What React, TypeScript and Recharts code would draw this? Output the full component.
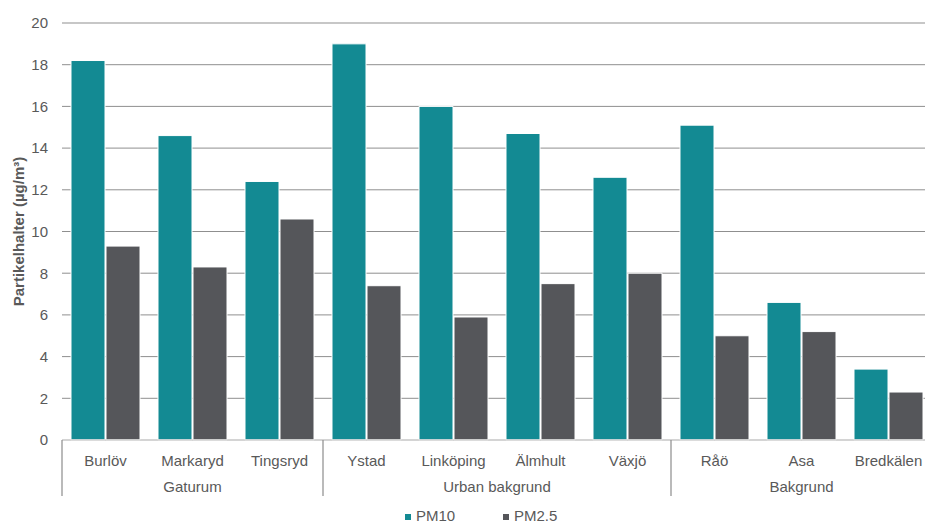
import React from "react";
import { BarChart, Bar, XAxis, YAxis, CartesianGrid, Label } from "recharts";

const categories = [
  "Burlöv",
  "Markaryd",
  "Tingsryd",
  "Ystad",
  "Linköping",
  "Älmhult",
  "Växjö",
  "Råö",
  "Asa",
  "Bredkälen",
];
const groupNames = ["Gaturum", "Urban bakgrund", "Bakgrund"];
const groupSizes = [3, 4, 3];
const pm10 = [18.2, 14.6, 12.4, 19.0, 16.0, 14.7, 12.6, 15.1, 6.6, 3.4];
const pm25 = [9.3, 8.3, 10.6, 7.4, 5.9, 7.5, 8.0, 5.0, 5.2, 2.3];
const yTicks = [0, 2, 4, 6, 8, 10, 12, 14, 16, 18, 20];

const TEAL = "#138A93";
const GREY = "#55565A";
const TEXT = "#595959";
const FONT = '"Liberation Sans", Arial, sans-serif';

// layout
const CHART_W = 932;
const CHART_H = 523;
const Y_W = 62;
const TOP = 23;
const PLOT_BOTTOM = 440;
const BAND = (CHART_W - Y_W) / categories.length;

const chartData = categories.map((name, i) => ({
  name,
  pm10: pm10[i],
  pm25: pm25[i],
}));

// index of first category -> group info
const groupStarts: Record<number, { name: string; size: number }> = {};
let acc = 0;
groupNames.forEach((g, i) => {
  groupStarts[acc] = { name: g, size: groupSizes[i] };
  acc += groupSizes[i];
});

const GroupTick = (props: any) => {
  const { x, index } = props;
  const g = groupStarts[index];
  const isLast = index === categories.length - 1;
  return (
    <g>
      {g && (
        <>
          <line
            x1={x - BAND / 2}
            x2={x - BAND / 2}
            y1={PLOT_BOTTOM}
            y2={PLOT_BOTTOM + 56}
            stroke="#8c8c8c"
            strokeWidth={1.2}
          />
          <text
            x={x - BAND / 2 + (g.size * BAND) / 2}
            y={PLOT_BOTTOM + 52}
            textAnchor="middle"
            fontSize={15}
            fontFamily={FONT}
            fill={TEXT}
          >
            {g.name}
          </text>
        </>
      )}
      {isLast && (
        <line
          x1={x + BAND / 2}
          x2={x + BAND / 2}
          y1={PLOT_BOTTOM}
          y2={PLOT_BOTTOM + 56}
          stroke="#8c8c8c"
          strokeWidth={1.2}
        />
      )}
    </g>
  );
};

const YLabel = (props: any) => {
  const vb = props.viewBox || {};
  const cy = (vb.y ?? TOP) + (vb.height ?? 417) / 2;
  return (
    <text
      x={18}
      y={cy}
      transform={`rotate(-90, 18, ${cy})`}
      textAnchor="middle"
      dominantBaseline="central"
      fontSize={15}
      fontWeight="bold"
      fontFamily={FONT}
      fill={TEXT}
    >
      Partikelhalter (µg/m³)
    </text>
  );
};

const legendItems = [
  { name: "PM10", color: TEAL },
  { name: "PM2.5", color: GREY },
];

export default function App() {
  return (
    <div
      style={{
        position: "fixed",
        top: 0,
        left: 0,
        width: 925,
        height: 523,
        overflow: "hidden",
        background: "#fff",
        fontFamily: FONT,
      }}
    >
      <BarChart
        width={CHART_W}
        height={CHART_H}
        data={chartData}
        margin={{ top: TOP, right: 0, left: 0, bottom: 23 }}
        barCategoryGap={9}
        barGap={1}
      >
        <CartesianGrid vertical={false} stroke="#8f8f8f" />
        <XAxis
          dataKey="name"
          interval={0}
          height={30}
          tickLine={false}
          tickMargin={9}
          axisLine={{ stroke: "#d9d9d9", strokeWidth: 1.5 }}
          tick={{ fontSize: 15, fill: TEXT, fontFamily: FONT }}
        />
        <XAxis
          xAxisId="group"
          dataKey="name"
          interval={0}
          height={30}
          tickLine={false}
          axisLine={false}
          tick={<GroupTick />}
        />
        <YAxis
          width={Y_W}
          domain={[0, 20]}
          ticks={yTicks}
          interval={0}
          axisLine={false}
          tickLine={false}
          tickMargin={8}
          tick={{ fontSize: 15, fill: TEXT, fontFamily: FONT }}
        >
          <Label content={<YLabel />} />
        </YAxis>
        <Bar
          dataKey="pm10"
          name="PM10"
          fill={TEAL}
          stroke="#ffffff"
          strokeWidth={1}
          isAnimationActive={false}
        />
        <Bar
          dataKey="pm25"
          name="PM2.5"
          fill={GREY}
          stroke="#ffffff"
          strokeWidth={1}
          isAnimationActive={false}
        />
      </BarChart>
      <div
        style={{
          position: "absolute",
          top: 509,
          left: 405,
          display: "flex",
          fontSize: 15,
          lineHeight: "13px",
          height: 13,
          color: TEXT,
        }}
      >
        {legendItems.map((item) => (
          <div
            key={item.name}
            style={{ display: "flex", alignItems: "center", width: 98 }}
          >
            <span
              style={{
                display: "inline-block",
                width: 6,
                height: 6,
                marginTop: 2,
                marginRight: 5,
                background: item.color,
              }}
            />
            <span>{item.name}</span>
          </div>
        ))}
      </div>
    </div>
  );
}
